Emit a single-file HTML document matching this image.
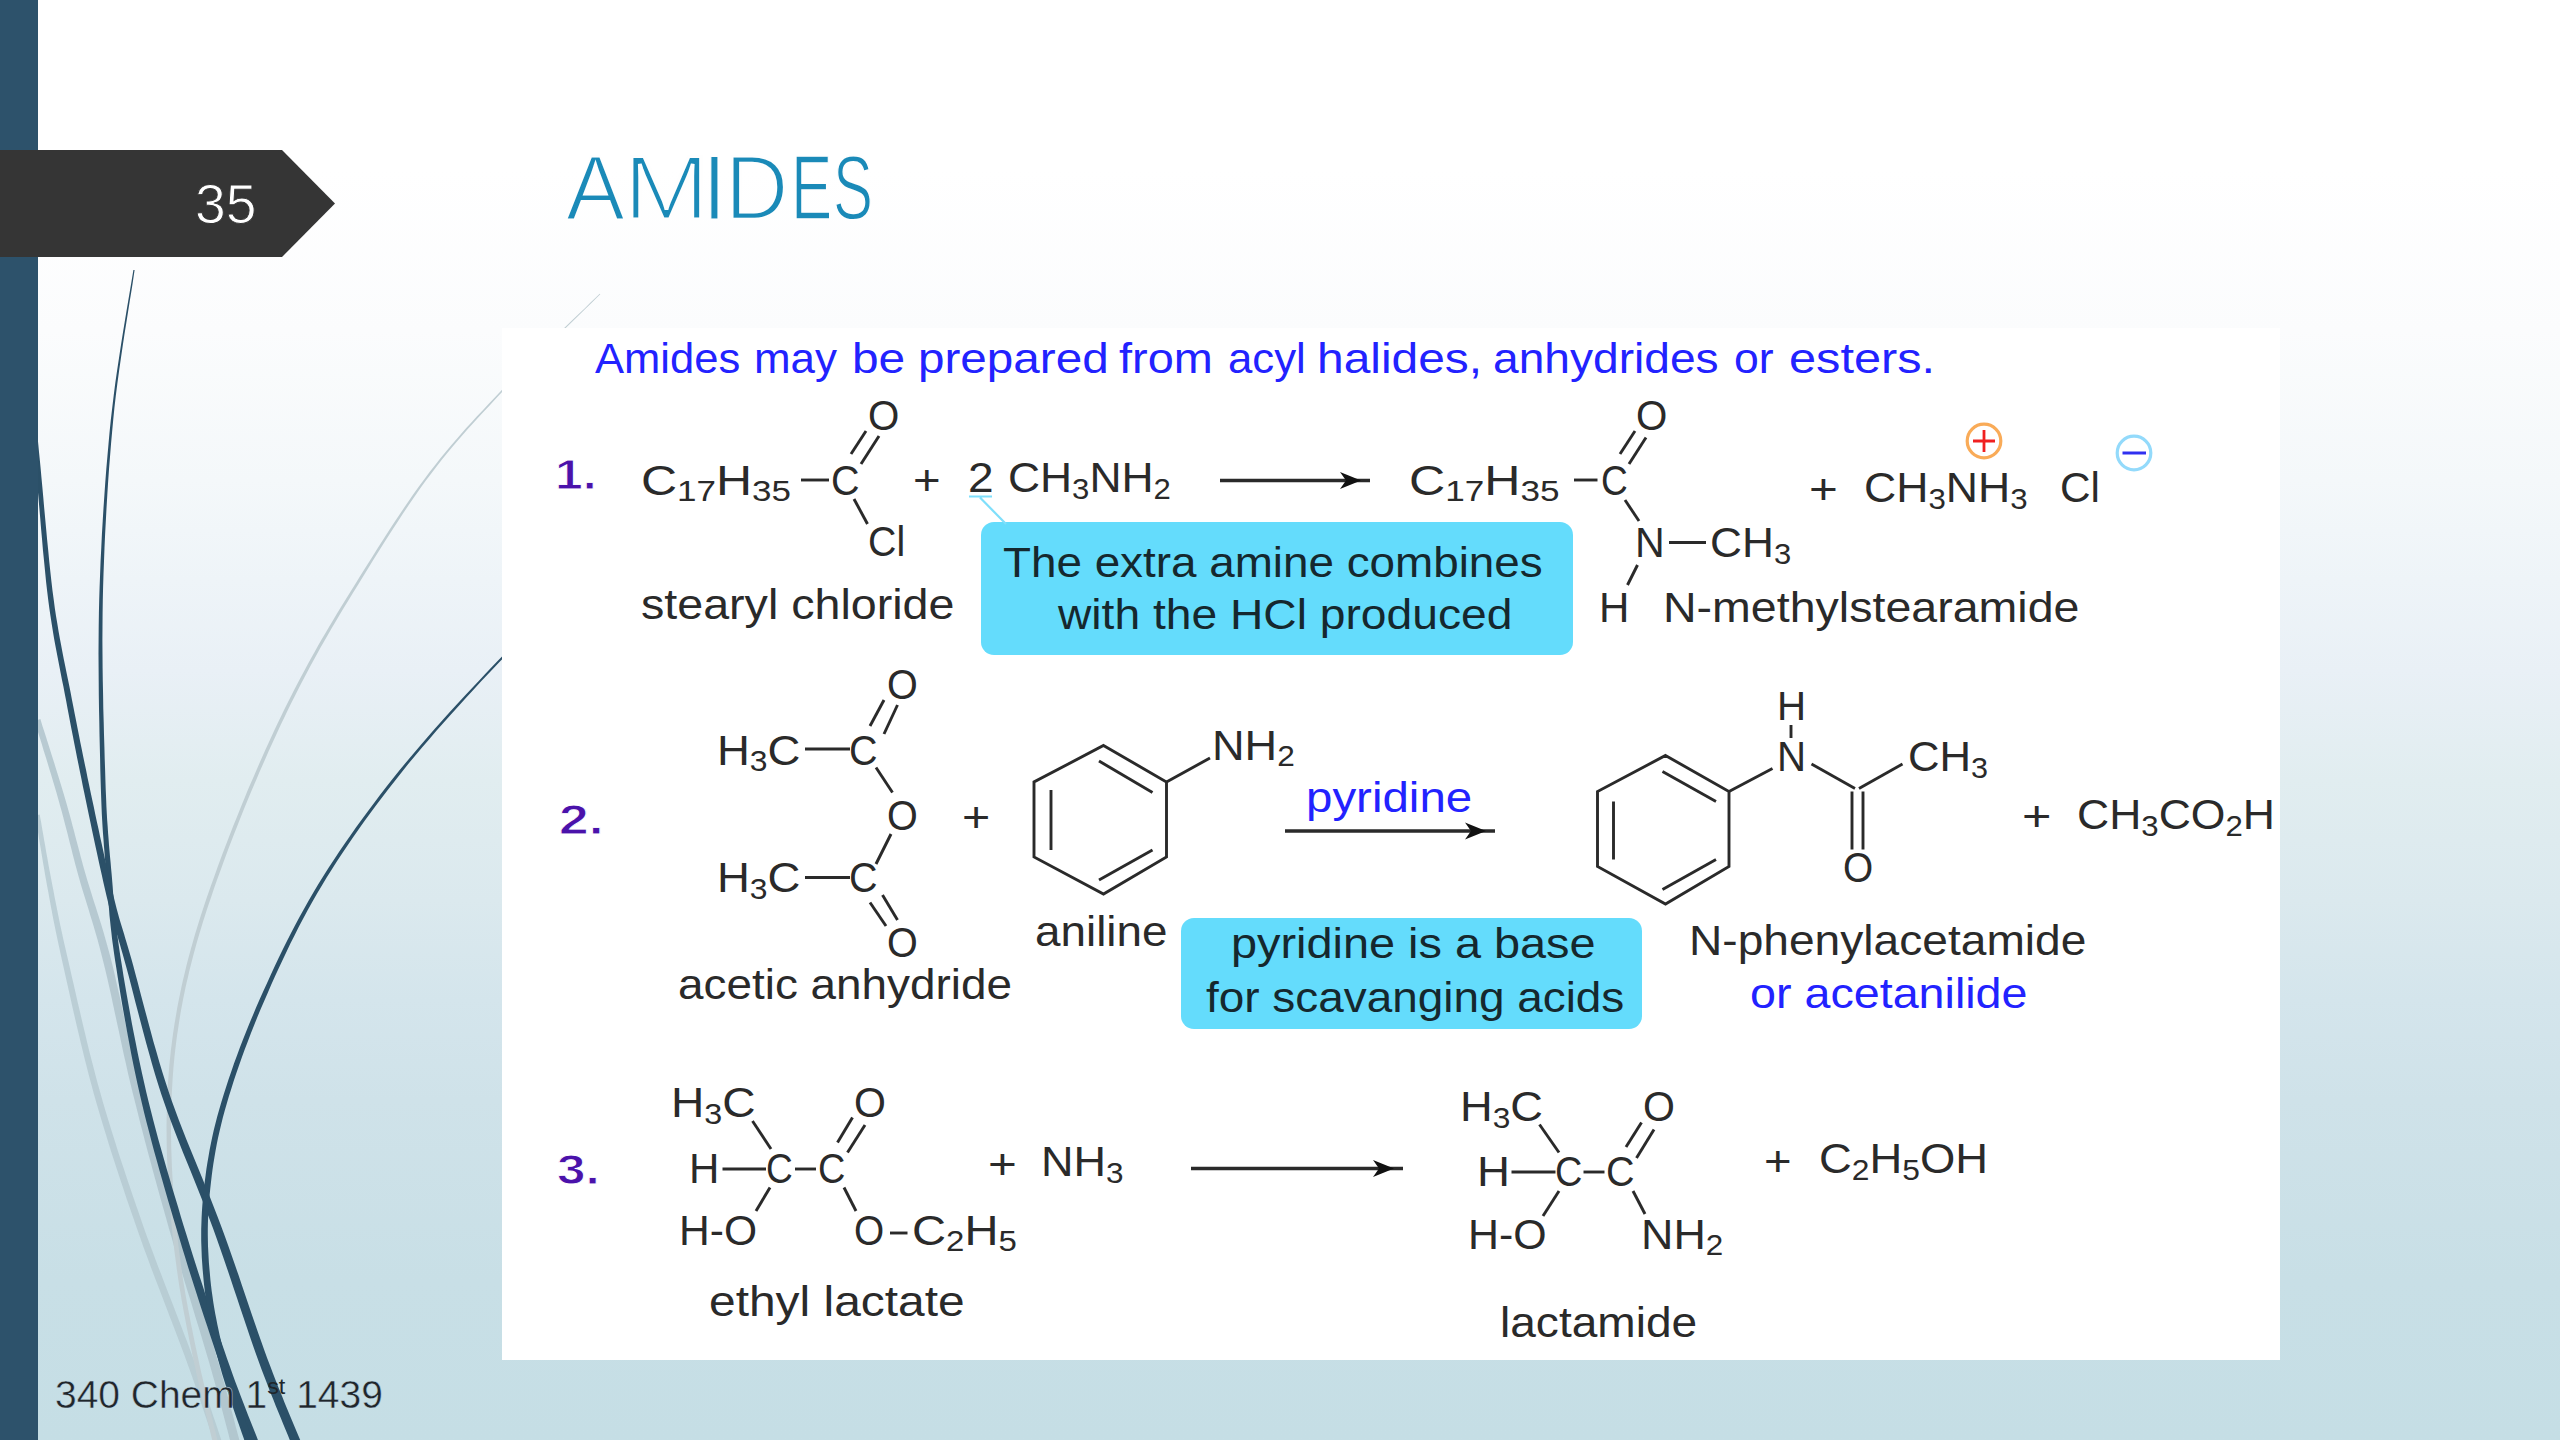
<!DOCTYPE html>
<html><head><meta charset="utf-8"><title>AMIDES</title>
<style>
html,body{margin:0;padding:0}
body{width:2560px;height:1440px;position:relative;overflow:hidden;font-family:"Liberation Sans",sans-serif;
background:linear-gradient(to bottom,#ffffff 0px,#ffffff 170px,#fbfcfd 330px,#f4f8fa 480px,#eef4f8 580px,#e9f0f6 670px,#e1edf0 780px,#dbe9ee 900px,#d4e5ec 1000px,#cfe2e9 1100px,#c8dfe6 1280px,#c5dee5 1440px);}
.t{position:absolute;white-space:pre;line-height:1;transform-origin:0 0;}
.sb{font-size:.70em;position:relative;top:.22em}
.sp{font-size:.6em;position:relative;top:-.62em;-webkit-text-stroke:0}
svg{position:absolute;left:0;top:0}
.bx{position:absolute}
</style></head>
<body>
<svg width="2560" height="1440" viewBox="0 0 2560 1440">
<path d="M34.6 720.9 L35.6 724.2 L36.9 728.2 L38.3 732.9 L39.9 738.1 L41.7 743.8 L43.5 749.9 L45.5 756.2 L47.5 762.8 L49.5 769.5 L51.5 776.1 L53.5 782.7 L55.4 789.1 L57.2 795.2 L58.8 800.9 L60.3 806.4 L61.8 811.8 L63.2 817.1 L64.6 822.4 L65.9 827.6 L67.3 832.8 L68.6 838.1 L69.9 843.3 L71.3 848.6 L72.6 853.9 L74.0 859.3 L75.4 864.7 L76.9 870.3 L78.5 876.0 L80.1 881.7 L81.7 887.3 L83.4 892.8 L85.1 898.3 L86.8 903.8 L88.5 909.3 L90.2 915.0 L92.0 920.8 L93.8 926.8 L95.6 933.0 L97.5 939.5 L99.3 946.3 L101.2 953.4 L103.1 961.0 L105.1 969.0 L107.1 977.4 L109.1 986.2 L111.1 995.3 L113.1 1004.8 L115.2 1014.4 L117.3 1024.3 L119.5 1034.3 L121.6 1044.3 L123.8 1054.4 L126.1 1064.5 L128.3 1074.5 L130.6 1084.3 L133.0 1094.0 L135.4 1103.6 L137.8 1113.1 L140.2 1122.7 L142.7 1132.3 L145.2 1141.9 L147.7 1151.5 L150.3 1161.1 L152.9 1170.7 L155.5 1180.3 L158.2 1189.9 L160.8 1199.5 L163.5 1209.1 L166.2 1218.6 L168.9 1228.2 L171.7 1237.8 L174.5 1247.7 L177.5 1257.7 L180.5 1267.7 L183.5 1277.8 L186.6 1287.9 L189.7 1297.8 L192.7 1307.7 L195.6 1317.4 L198.5 1326.8 L201.3 1336.0 L203.9 1344.8 L206.4 1353.2 L208.8 1361.2 L211.0 1369.0 L213.1 1376.6 L215.2 1384.1 L217.2 1391.4 L219.1 1398.5 L220.9 1405.4 L222.7 1412.0 L224.3 1418.2 L225.8 1424.0 L227.3 1429.4 L228.6 1434.4 L229.7 1438.9 L230.8 1442.8 L231.7 1446.2 L240.3 1443.8 L239.5 1440.5 L238.4 1436.6 L237.2 1432.1 L235.9 1427.2 L234.5 1421.7 L233.0 1415.9 L231.3 1409.7 L229.6 1403.1 L227.7 1396.2 L225.8 1389.1 L223.7 1381.7 L221.6 1374.2 L219.5 1366.5 L217.2 1358.8 L214.9 1350.7 L212.4 1342.3 L209.7 1333.4 L206.9 1324.2 L204.0 1314.8 L201.0 1305.1 L198.0 1295.3 L194.9 1285.3 L191.8 1275.3 L188.8 1265.2 L185.7 1255.2 L182.8 1245.3 L179.9 1235.4 L177.1 1225.8 L174.4 1216.3 L171.7 1206.7 L169.0 1197.2 L166.3 1187.6 L163.7 1178.1 L161.0 1168.5 L158.4 1158.9 L155.9 1149.3 L153.3 1139.8 L150.8 1130.2 L148.3 1120.6 L145.8 1111.1 L143.4 1101.5 L141.0 1092.0 L138.7 1082.4 L136.4 1072.6 L134.1 1062.7 L131.8 1052.6 L129.6 1042.6 L127.4 1032.6 L125.3 1022.6 L123.2 1012.7 L121.1 1003.1 L119.0 993.6 L116.9 984.4 L114.9 975.6 L112.9 967.1 L110.9 959.0 L108.9 951.4 L106.9 944.2 L105.0 937.4 L103.1 930.8 L101.2 924.6 L99.3 918.6 L97.5 912.7 L95.7 907.1 L93.9 901.5 L92.2 896.0 L90.5 890.6 L88.8 885.1 L87.1 879.6 L85.5 874.0 L83.9 868.4 L82.4 862.9 L80.9 857.4 L79.5 852.1 L78.1 846.8 L76.7 841.5 L75.3 836.3 L74.0 831.1 L72.6 825.9 L71.2 820.6 L69.8 815.3 L68.3 810.0 L66.8 804.6 L65.2 799.1 L63.5 793.3 L61.7 787.2 L59.7 780.8 L57.7 774.2 L55.6 767.6 L53.6 760.9 L51.5 754.4 L49.5 748.0 L47.6 742.0 L45.8 736.3 L44.1 731.0 L42.6 726.4 L41.4 722.4 L40.4 719.1Z" fill="#adc1c9" opacity="0.80"/>
<path d="M35.3 815.4 L35.8 818.3 L36.4 821.9 L37.0 826.0 L37.8 830.7 L38.6 835.8 L39.5 841.2 L40.4 846.8 L41.4 852.7 L42.4 858.7 L43.4 864.7 L44.4 870.6 L45.4 876.5 L46.4 882.1 L47.4 887.5 L48.4 892.5 L49.2 897.3 L50.1 902.0 L50.9 906.5 L51.8 911.1 L52.6 915.6 L53.5 920.2 L54.5 925.0 L55.5 930.0 L56.6 935.3 L57.8 941.0 L59.1 947.0 L60.5 953.6 L62.1 960.7 L63.8 968.3 L65.6 976.5 L67.6 985.2 L69.6 994.3 L71.7 1003.7 L73.9 1013.4 L76.2 1023.4 L78.6 1033.5 L81.0 1043.7 L83.5 1053.9 L86.0 1064.1 L88.6 1074.2 L91.3 1084.2 L93.9 1093.9 L96.6 1103.4 L99.4 1113.0 L102.2 1122.6 L105.2 1132.2 L108.1 1141.8 L111.1 1151.4 L114.2 1161.0 L117.3 1170.6 L120.5 1180.2 L123.7 1189.8 L126.9 1199.4 L130.2 1209.0 L133.5 1218.6 L136.8 1228.1 L140.2 1237.8 L143.7 1247.7 L147.4 1257.6 L151.1 1267.7 L154.9 1277.8 L158.8 1287.8 L162.6 1297.8 L166.4 1307.7 L170.1 1317.4 L173.7 1326.8 L177.2 1336.0 L180.5 1344.8 L183.7 1353.2 L186.6 1361.2 L189.4 1369.0 L192.1 1376.6 L194.7 1384.1 L197.2 1391.5 L199.6 1398.6 L201.9 1405.4 L204.1 1412.0 L206.2 1418.2 L208.1 1424.1 L209.9 1429.5 L211.5 1434.4 L213.0 1438.9 L214.3 1442.9 L215.4 1446.2 L222.6 1443.8 L221.4 1440.5 L220.1 1436.6 L218.6 1432.1 L217.0 1427.1 L215.2 1421.7 L213.2 1415.9 L211.1 1409.6 L208.9 1403.1 L206.6 1396.2 L204.1 1389.1 L201.6 1381.7 L198.9 1374.2 L196.2 1366.5 L193.4 1358.8 L190.4 1350.7 L187.3 1342.3 L183.9 1333.4 L180.4 1324.2 L176.7 1314.8 L173.0 1305.1 L169.2 1295.3 L165.3 1285.3 L161.5 1275.3 L157.6 1265.2 L153.9 1255.2 L150.2 1245.3 L146.6 1235.5 L143.2 1225.9 L139.9 1216.3 L136.6 1206.8 L133.3 1197.2 L130.1 1187.7 L126.8 1178.1 L123.7 1168.6 L120.5 1159.0 L117.4 1149.4 L114.4 1139.8 L111.4 1130.3 L108.5 1120.7 L105.6 1111.2 L102.8 1101.7 L100.1 1092.1 L97.4 1082.5 L94.8 1072.6 L92.2 1062.6 L89.6 1052.4 L87.1 1042.2 L84.7 1032.1 L82.3 1022.0 L80.0 1012.1 L77.7 1002.3 L75.6 992.9 L73.5 983.8 L71.5 975.2 L69.7 967.0 L67.9 959.3 L66.3 952.3 L64.8 945.8 L63.4 939.8 L62.2 934.1 L61.1 928.9 L60.0 923.9 L59.0 919.1 L58.1 914.5 L57.2 910.0 L56.3 905.5 L55.4 901.0 L54.5 896.4 L53.6 891.5 L52.6 886.5 L51.6 881.2 L50.5 875.6 L49.4 869.8 L48.3 863.8 L47.3 857.8 L46.2 851.9 L45.2 846.0 L44.2 840.4 L43.3 835.0 L42.4 829.9 L41.6 825.3 L40.9 821.1 L40.2 817.5 L39.7 814.6Z" fill="#b4c8cf" opacity="0.80"/>
<path d="M599.7 293.7 L595.6 297.7 L590.5 302.6 L584.6 308.4 L577.9 314.8 L570.6 321.8 L562.9 329.3 L554.8 337.1 L546.6 345.1 L538.3 353.3 L530.0 361.4 L522.0 369.4 L514.3 377.1 L507.0 384.5 L500.4 391.4 L494.3 398.0 L488.3 404.2 L482.6 410.4 L477.0 416.3 L471.6 422.3 L466.2 428.1 L461.0 434.0 L455.8 440.0 L450.6 446.0 L445.4 452.2 L440.2 458.6 L435.0 465.2 L429.6 472.1 L424.1 479.4 L418.5 487.0 L412.8 495.1 L407.0 503.5 L401.1 512.2 L395.2 521.1 L389.3 530.1 L383.4 539.2 L377.6 548.3 L371.9 557.4 L366.3 566.3 L360.8 575.0 L355.6 583.4 L350.6 591.6 L345.8 599.3 L341.3 606.6 L337.0 613.6 L332.9 620.4 L329.0 627.0 L325.2 633.4 L321.6 639.6 L318.0 645.8 L314.6 651.9 L311.2 658.0 L307.9 664.0 L304.6 670.2 L301.2 676.4 L297.9 682.7 L294.5 689.2 L291.1 695.9 L287.8 702.6 L284.4 709.3 L281.2 716.0 L277.9 722.8 L274.7 729.6 L271.5 736.5 L268.4 743.3 L265.3 750.1 L262.2 757.0 L259.2 763.8 L256.2 770.7 L253.3 777.5 L250.3 784.3 L247.4 791.1 L244.6 798.0 L241.7 804.9 L238.9 811.9 L236.1 818.9 L233.3 825.8 L230.6 832.8 L227.9 839.7 L225.3 846.5 L222.7 853.3 L220.2 860.0 L217.8 866.6 L215.5 873.0 L213.2 879.4 L211.0 885.5 L208.9 891.6 L206.8 897.6 L204.8 903.5 L202.9 909.3 L201.0 915.0 L199.2 920.7 L197.5 926.3 L195.8 931.8 L194.1 937.4 L192.6 942.9 L191.0 948.4 L189.5 954.0 L188.0 959.5 L186.6 965.0 L185.3 970.5 L184.0 975.9 L182.7 981.3 L181.5 986.7 L180.4 992.1 L179.3 997.4 L178.2 1002.7 L177.2 1008.0 L176.3 1013.4 L175.4 1018.7 L174.5 1024.0 L173.7 1029.3 L172.9 1034.7 L172.2 1040.1 L171.5 1045.4 L170.8 1050.7 L170.3 1056.1 L169.7 1061.4 L169.2 1066.7 L168.8 1072.0 L168.4 1077.4 L168.0 1082.7 L167.7 1088.1 L167.4 1093.5 L167.2 1098.9 L167.0 1104.4 L166.8 1109.9 L166.7 1115.5 L166.6 1121.1 L166.5 1126.7 L166.6 1132.4 L166.6 1138.0 L166.7 1143.7 L166.8 1149.4 L167.0 1155.2 L167.2 1160.9 L167.4 1166.7 L167.7 1172.6 L168.0 1178.4 L168.4 1184.3 L168.7 1190.2 L169.1 1196.1 L169.6 1202.1 L170.1 1208.1 L170.6 1214.1 L171.1 1220.2 L171.7 1226.3 L172.3 1232.4 L173.0 1238.6 L173.7 1244.7 L174.4 1250.9 L175.2 1257.0 L176.0 1263.1 L176.8 1269.2 L177.7 1275.3 L178.6 1281.4 L179.5 1287.5 L180.6 1293.6 L181.6 1299.7 L182.7 1305.8 L183.8 1311.9 L185.0 1318.0 L186.1 1324.0 L187.3 1330.1 L188.6 1336.2 L189.8 1342.3 L191.1 1348.4 L192.3 1354.4 L193.6 1360.5 L195.0 1366.8 L196.4 1373.4 L198.0 1380.3 L199.6 1387.3 L201.3 1394.4 L202.9 1401.5 L204.6 1408.4 L206.2 1415.1 L207.8 1421.5 L209.2 1427.5 L210.5 1433.0 L211.7 1437.9 L212.7 1442.1 L213.6 1445.6 L218.4 1444.4 L217.6 1441.0 L216.6 1436.7 L215.4 1431.8 L214.0 1426.3 L212.6 1420.3 L211.0 1413.9 L209.4 1407.2 L207.7 1400.3 L206.1 1393.3 L204.4 1386.2 L202.8 1379.2 L201.2 1372.4 L199.7 1365.8 L198.4 1359.5 L197.1 1353.4 L195.8 1347.4 L194.5 1341.3 L193.3 1335.2 L192.1 1329.2 L190.8 1323.1 L189.7 1317.0 L188.5 1311.0 L187.4 1304.9 L186.3 1298.9 L185.2 1292.8 L184.2 1286.8 L183.2 1280.7 L182.3 1274.7 L181.5 1268.6 L180.6 1262.5 L179.8 1256.4 L179.0 1250.3 L178.3 1244.2 L177.6 1238.1 L176.9 1231.9 L176.3 1225.8 L175.7 1219.8 L175.1 1213.7 L174.6 1207.7 L174.1 1201.7 L173.7 1195.8 L173.3 1189.8 L172.9 1184.0 L172.5 1178.1 L172.2 1172.3 L171.9 1166.5 L171.7 1160.8 L171.5 1155.0 L171.3 1149.3 L171.2 1143.6 L171.1 1138.0 L171.0 1132.3 L171.0 1126.7 L171.0 1121.1 L171.1 1115.6 L171.2 1110.1 L171.4 1104.6 L171.6 1099.1 L171.8 1093.7 L172.1 1088.3 L172.4 1083.0 L172.7 1077.7 L173.1 1072.4 L173.5 1067.1 L174.0 1061.8 L174.5 1056.5 L175.1 1051.2 L175.7 1045.9 L176.4 1040.6 L177.1 1035.3 L177.9 1030.0 L178.7 1024.7 L179.5 1019.4 L180.4 1014.1 L181.3 1008.8 L182.3 1003.5 L183.3 998.2 L184.4 992.9 L185.5 987.6 L186.7 982.2 L188.0 976.9 L189.2 971.5 L190.6 966.0 L192.0 960.5 L193.4 955.0 L194.9 949.5 L196.4 944.0 L198.0 938.5 L199.6 933.0 L201.3 927.4 L203.0 921.8 L204.8 916.2 L206.6 910.5 L208.5 904.7 L210.5 898.9 L212.5 892.9 L214.6 886.8 L216.8 880.6 L219.1 874.3 L221.4 867.9 L223.8 861.3 L226.3 854.6 L228.8 847.8 L231.4 841.0 L234.1 834.1 L236.8 827.2 L239.5 820.2 L242.3 813.3 L245.1 806.3 L247.9 799.4 L250.8 792.5 L253.7 785.7 L256.6 778.9 L259.5 772.1 L262.5 765.3 L265.5 758.4 L268.5 751.6 L271.6 744.7 L274.7 737.9 L277.9 731.1 L281.0 724.3 L284.3 717.5 L287.5 710.8 L290.8 704.1 L294.1 697.4 L297.5 690.8 L300.8 684.3 L304.1 677.9 L307.4 671.7 L310.7 665.6 L314.0 659.5 L317.3 653.4 L320.7 647.3 L324.2 641.2 L327.8 634.9 L331.5 628.5 L335.4 621.9 L339.5 615.1 L343.7 608.1 L348.2 600.7 L352.9 593.0 L357.9 584.9 L363.1 576.4 L368.5 567.7 L374.0 558.7 L379.7 549.7 L385.5 540.5 L391.3 531.4 L397.2 522.4 L403.0 513.5 L408.9 504.8 L414.6 496.4 L420.3 488.3 L425.9 480.6 L431.3 473.4 L436.6 466.5 L441.8 459.8 L446.9 453.4 L452.1 447.2 L457.2 441.2 L462.4 435.2 L467.6 429.3 L472.9 423.5 L478.3 417.5 L483.9 411.5 L489.6 405.4 L495.5 399.1 L501.6 392.6 L508.2 385.6 L515.3 378.2 L523.0 370.4 L531.0 362.4 L539.2 354.2 L547.4 346.0 L555.7 337.9 L563.7 330.1 L571.4 322.5 L578.6 315.5 L585.2 309.0 L591.2 303.3 L596.2 298.3 L600.3 294.3Z" fill="#c0ced3"/>
<path d="M133.4 269.9 L132.4 275.9 L131.2 283.2 L129.8 291.6 L128.2 300.9 L126.5 311.1 L124.7 322.1 L122.8 333.6 L120.9 345.6 L119.0 357.9 L117.1 370.4 L115.3 383.0 L113.7 395.6 L112.2 407.9 L110.8 419.9 L109.6 431.8 L108.5 444.0 L107.4 456.5 L106.3 469.1 L105.3 482.0 L104.4 494.9 L103.5 508.0 L102.7 521.2 L101.9 534.4 L101.3 547.6 L100.6 560.8 L100.1 574.0 L99.6 587.0 L99.2 600.0 L98.9 613.0 L98.7 626.4 L98.6 640.1 L98.5 653.9 L98.6 667.8 L98.7 681.6 L98.8 695.3 L99.0 708.8 L99.3 722.0 L99.5 734.8 L99.8 747.1 L100.1 758.8 L100.3 769.8 L100.6 780.1 L100.9 789.5 L101.2 798.2 L101.5 806.3 L101.8 813.8 L102.2 820.8 L102.6 827.4 L103.0 833.6 L103.5 839.6 L103.9 845.5 L104.4 851.3 L104.8 857.1 L105.3 862.9 L105.8 868.9 L106.3 875.2 L106.8 881.5 L107.3 887.5 L107.7 893.2 L108.2 898.8 L108.6 904.4 L109.1 909.9 L109.5 915.4 L110.1 921.0 L110.7 926.8 L111.4 932.8 L112.1 939.2 L113.0 945.8 L114.0 952.9 L115.1 960.4 L116.4 968.5 L117.7 976.9 L119.1 985.8 L120.6 995.0 L122.2 1004.4 L123.9 1014.1 L125.7 1024.0 L127.5 1034.0 L129.4 1044.1 L131.3 1054.2 L133.3 1064.2 L135.4 1074.2 L137.5 1084.1 L139.7 1093.8 L141.9 1103.3 L144.2 1112.9 L146.6 1122.5 L149.1 1132.1 L151.6 1141.8 L154.2 1151.4 L156.9 1161.0 L159.5 1170.6 L162.3 1180.2 L165.0 1189.8 L167.8 1199.4 L170.6 1209.0 L173.4 1218.6 L176.3 1228.1 L179.2 1237.8 L182.1 1247.6 L185.2 1257.6 L188.3 1267.7 L191.5 1277.8 L194.7 1287.8 L197.9 1297.8 L201.1 1307.7 L204.3 1317.4 L207.4 1326.8 L210.4 1336.0 L213.4 1344.9 L216.2 1353.4 L219.0 1361.4 L221.6 1369.2 L224.4 1376.9 L227.1 1384.4 L229.8 1391.8 L232.5 1398.9 L235.1 1405.8 L237.6 1412.4 L240.0 1418.6 L242.2 1424.5 L244.4 1429.9 L246.3 1434.9 L248.0 1439.4 L249.5 1443.3 L250.8 1446.6 L259.2 1443.4 L257.9 1440.0 L256.4 1436.1 L254.6 1431.6 L252.7 1426.7 L250.5 1421.3 L248.2 1415.4 L245.8 1409.2 L243.3 1402.7 L240.6 1395.8 L238.0 1388.7 L235.2 1381.4 L232.5 1373.9 L229.8 1366.3 L227.0 1358.6 L224.3 1350.6 L221.4 1342.2 L218.4 1333.4 L215.3 1324.2 L212.2 1314.8 L208.9 1305.1 L205.7 1295.3 L202.5 1285.3 L199.2 1275.3 L196.0 1265.3 L192.8 1255.2 L189.7 1245.3 L186.7 1235.5 L183.7 1225.9 L180.8 1216.4 L178.0 1206.8 L175.1 1197.3 L172.2 1187.7 L169.4 1178.1 L166.6 1168.6 L163.9 1159.0 L161.2 1149.4 L158.5 1139.9 L155.9 1130.3 L153.4 1120.8 L151.0 1111.3 L148.6 1101.7 L146.3 1092.2 L144.1 1082.6 L141.9 1072.8 L139.8 1062.9 L137.7 1052.9 L135.7 1042.8 L133.7 1032.8 L131.8 1022.9 L130.0 1013.0 L128.3 1003.4 L126.6 994.0 L125.0 984.8 L123.5 976.0 L122.2 967.6 L120.9 959.6 L119.7 952.1 L118.7 945.0 L117.8 938.4 L117.0 932.2 L116.3 926.2 L115.6 920.5 L115.1 914.9 L114.6 909.4 L114.1 903.9 L113.6 898.4 L113.1 892.8 L112.7 887.0 L112.2 881.1 L111.7 874.8 L111.1 868.5 L110.6 862.5 L110.0 856.6 L109.5 850.8 L109.0 845.1 L108.6 839.2 L108.1 833.3 L107.7 827.0 L107.2 820.5 L106.8 813.5 L106.4 806.0 L106.1 798.0 L105.7 789.3 L105.4 779.9 L105.1 769.7 L104.7 758.7 L104.4 747.0 L104.0 734.7 L103.7 721.9 L103.3 708.8 L103.1 695.3 L102.8 681.6 L102.6 667.8 L102.5 653.9 L102.4 640.1 L102.5 626.5 L102.6 613.1 L102.8 600.0 L103.1 587.1 L103.5 574.1 L104.0 561.0 L104.5 547.8 L105.1 534.6 L105.8 521.4 L106.5 508.2 L107.3 495.1 L108.1 482.2 L109.0 469.3 L110.0 456.7 L111.0 444.2 L112.1 432.0 L113.2 420.1 L114.4 408.1 L115.8 395.8 L117.4 383.3 L119.1 370.7 L120.9 358.2 L122.7 345.9 L124.5 333.9 L126.4 322.3 L128.1 311.4 L129.7 301.2 L131.3 291.8 L132.6 283.4 L133.7 276.1 L134.6 270.1Z" fill="#2b5068"/>
<path d="M27.9 380.2 L28.2 383.3 L28.5 386.9 L28.9 391.0 L29.3 395.5 L29.7 400.4 L30.2 405.7 L30.7 411.5 L31.3 417.5 L31.9 423.9 L32.5 430.6 L33.1 437.7 L33.8 444.9 L34.5 452.5 L35.2 460.2 L36.0 468.5 L36.7 477.4 L37.5 487.0 L38.4 497.0 L39.3 507.4 L40.2 518.1 L41.1 529.0 L42.1 539.9 L43.0 550.7 L44.1 561.4 L45.1 571.8 L46.1 581.9 L47.2 591.4 L48.3 600.4 L49.4 608.8 L50.6 616.8 L51.8 624.5 L53.0 632.0 L54.2 639.2 L55.5 646.2 L56.8 653.0 L58.1 659.8 L59.4 666.5 L60.7 673.2 L62.0 679.9 L63.4 686.6 L64.7 693.5 L66.1 700.6 L67.4 707.7 L68.8 714.9 L70.1 722.0 L71.5 729.2 L72.9 736.3 L74.3 743.5 L75.7 750.6 L77.1 757.8 L78.6 764.9 L80.0 772.1 L81.5 779.2 L82.9 786.4 L84.4 793.5 L85.9 800.7 L87.4 807.9 L88.9 815.3 L90.5 822.8 L92.1 830.4 L93.7 838.0 L95.3 845.6 L97.0 853.2 L98.6 860.7 L100.2 868.0 L101.8 875.1 L103.3 882.0 L104.8 888.6 L106.3 894.9 L107.7 900.8 L109.0 906.2 L110.2 910.9 L111.3 915.1 L112.3 918.8 L113.3 922.3 L114.3 925.7 L115.3 928.9 L116.3 932.3 L117.4 935.8 L118.5 939.7 L119.8 944.0 L121.2 948.9 L122.8 954.5 L124.6 960.9 L126.6 968.2 L128.7 976.1 L130.9 984.6 L133.2 993.6 L135.6 1003.0 L138.2 1012.8 L140.8 1022.8 L143.5 1033.1 L146.3 1043.4 L149.2 1053.8 L152.1 1064.2 L155.1 1074.4 L158.2 1084.5 L161.3 1094.2 L164.6 1103.8 L168.0 1113.4 L171.6 1123.1 L175.3 1132.7 L179.0 1142.3 L182.8 1151.9 L186.7 1161.5 L190.6 1171.1 L194.5 1180.7 L198.3 1190.3 L202.2 1199.9 L205.9 1209.4 L209.5 1218.9 L213.1 1228.5 L216.5 1238.1 L220.0 1247.9 L223.4 1257.8 L226.9 1267.9 L230.3 1277.9 L233.6 1288.0 L237.0 1298.0 L240.2 1307.8 L243.5 1317.5 L246.7 1327.0 L249.8 1336.2 L252.8 1345.0 L255.8 1353.5 L258.7 1361.6 L261.6 1369.4 L264.5 1377.1 L267.4 1384.6 L270.2 1392.0 L273.1 1399.1 L275.8 1406.0 L278.5 1412.6 L281.1 1418.8 L283.5 1424.7 L285.7 1430.1 L287.8 1435.1 L289.6 1439.6 L291.2 1443.5 L292.6 1446.8 L301.4 1443.2 L300.1 1439.8 L298.5 1435.9 L296.6 1431.4 L294.5 1426.5 L292.2 1421.1 L289.8 1415.2 L287.2 1409.0 L284.5 1402.5 L281.8 1395.6 L278.9 1388.5 L276.0 1381.2 L273.1 1373.8 L270.2 1366.1 L267.3 1358.4 L264.4 1350.4 L261.4 1342.0 L258.3 1333.2 L255.1 1324.1 L251.9 1314.7 L248.6 1305.0 L245.3 1295.2 L241.9 1285.2 L238.5 1275.1 L235.0 1265.1 L231.5 1255.0 L228.0 1245.1 L224.5 1235.2 L220.9 1225.5 L217.3 1216.0 L213.6 1206.4 L209.8 1196.8 L205.9 1187.2 L202.0 1177.6 L198.1 1168.1 L194.2 1158.5 L190.3 1148.9 L186.4 1139.4 L182.6 1129.8 L178.9 1120.3 L175.4 1110.8 L171.9 1101.3 L168.7 1091.8 L165.5 1082.1 L162.4 1072.2 L159.3 1062.1 L156.4 1051.8 L153.4 1041.4 L150.6 1031.1 L147.9 1020.9 L145.2 1010.9 L142.6 1001.2 L140.1 991.7 L137.8 982.8 L135.5 974.3 L133.4 966.3 L131.4 959.1 L129.5 952.6 L127.9 947.0 L126.4 942.1 L125.1 937.7 L124.0 933.8 L122.9 930.3 L121.9 926.9 L120.9 923.7 L119.9 920.4 L118.9 917.0 L117.9 913.3 L116.8 909.2 L115.6 904.5 L114.3 899.2 L112.9 893.3 L111.4 887.1 L109.8 880.5 L108.3 873.6 L106.7 866.5 L105.0 859.2 L103.4 851.8 L101.8 844.3 L100.1 836.7 L98.5 829.1 L96.8 821.5 L95.2 814.0 L93.7 806.6 L92.1 799.3 L90.6 792.2 L89.1 785.1 L87.6 777.9 L86.2 770.8 L84.7 763.7 L83.2 756.5 L81.8 749.4 L80.3 742.3 L78.9 735.1 L77.5 728.0 L76.1 720.8 L74.7 713.7 L73.3 706.6 L71.9 699.4 L70.6 692.4 L69.2 685.5 L67.8 678.7 L66.4 672.0 L65.1 665.4 L63.7 658.7 L62.4 652.0 L61.1 645.1 L59.8 638.2 L58.5 631.0 L57.3 623.6 L56.0 616.0 L54.8 608.0 L53.7 599.6 L52.5 590.8 L51.4 581.3 L50.3 571.3 L49.2 560.9 L48.2 550.2 L47.1 539.4 L46.1 528.5 L45.1 517.7 L44.1 507.0 L43.2 496.6 L42.3 486.5 L41.4 477.0 L40.6 468.0 L39.8 459.8 L39.0 452.0 L38.3 444.5 L37.6 437.2 L36.9 430.2 L36.3 423.5 L35.7 417.1 L35.1 411.0 L34.5 405.3 L34.0 400.0 L33.6 395.1 L33.1 390.6 L32.7 386.5 L32.4 382.9 L32.1 379.8Z" fill="#2b5068"/>
<path d="M559.5 604.4 L557.1 606.5 L554.3 609.0 L551.1 611.7 L547.6 614.7 L543.7 618.0 L539.6 621.5 L535.1 625.4 L530.4 629.5 L525.5 634.0 L520.3 638.7 L515.0 643.7 L509.6 648.9 L504.0 654.5 L498.3 660.3 L492.3 666.5 L485.9 673.2 L479.2 680.4 L472.1 687.9 L464.8 695.7 L457.4 703.8 L449.8 712.1 L442.2 720.6 L434.6 729.1 L427.0 737.7 L419.7 746.2 L412.5 754.7 L405.5 763.0 L398.9 771.1 L392.5 779.1 L386.2 787.1 L380.0 795.1 L373.9 803.2 L367.9 811.2 L362.0 819.3 L356.1 827.3 L350.4 835.4 L344.8 843.5 L339.3 851.6 L333.9 859.7 L328.6 867.8 L323.4 875.9 L318.4 884.0 L313.5 892.2 L308.7 900.4 L304.1 908.7 L299.5 916.9 L295.1 925.2 L290.8 933.5 L286.6 941.7 L282.5 950.0 L278.5 958.3 L274.6 966.5 L270.8 974.7 L267.1 982.9 L263.4 991.0 L259.8 999.1 L256.3 1007.1 L252.9 1015.2 L249.5 1023.3 L246.2 1031.5 L243.0 1039.6 L239.9 1047.6 L236.9 1055.7 L234.0 1063.6 L231.3 1071.5 L228.6 1079.3 L226.1 1087.0 L223.7 1094.6 L221.4 1102.0 L219.3 1109.2 L217.3 1116.3 L215.5 1123.3 L213.8 1130.1 L212.3 1136.8 L210.9 1143.4 L209.6 1150.0 L208.5 1156.4 L207.4 1162.7 L206.4 1169.0 L205.6 1175.2 L204.8 1181.4 L204.1 1187.5 L203.4 1193.6 L202.8 1199.7 L202.3 1205.8 L201.9 1211.8 L201.6 1217.7 L201.4 1223.5 L201.2 1229.3 L201.2 1235.0 L201.2 1240.7 L201.4 1246.3 L201.6 1252.0 L201.8 1257.6 L202.2 1263.3 L202.6 1268.9 L203.1 1274.6 L203.6 1280.3 L204.2 1286.1 L204.9 1291.8 L205.6 1297.5 L206.4 1303.2 L207.3 1308.9 L208.3 1314.6 L209.4 1320.3 L210.5 1326.1 L211.6 1331.8 L212.9 1337.6 L214.2 1343.3 L215.6 1349.2 L217.0 1355.0 L218.5 1360.9 L220.2 1367.1 L222.1 1373.7 L224.2 1380.5 L226.4 1387.5 L228.7 1394.6 L231.0 1401.7 L233.4 1408.7 L235.7 1415.5 L238.0 1422.0 L240.1 1428.0 L242.0 1433.6 L243.8 1438.5 L245.2 1442.8 L246.4 1446.2 L253.6 1443.8 L252.4 1440.3 L250.9 1436.0 L249.2 1431.1 L247.2 1425.5 L245.1 1419.5 L242.8 1413.0 L240.5 1406.3 L238.1 1399.4 L235.7 1392.3 L233.4 1385.3 L231.1 1378.3 L229.1 1371.6 L227.2 1365.1 L225.5 1359.1 L224.0 1353.3 L222.5 1347.5 L221.2 1341.7 L219.8 1336.0 L218.6 1330.3 L217.4 1324.7 L216.3 1319.0 L215.2 1313.4 L214.2 1307.8 L213.3 1302.2 L212.5 1296.6 L211.7 1290.9 L211.0 1285.3 L210.4 1279.7 L209.9 1274.0 L209.4 1268.4 L208.9 1262.8 L208.6 1257.2 L208.3 1251.7 L208.0 1246.1 L207.9 1240.6 L207.8 1235.0 L207.8 1229.3 L207.9 1223.7 L208.1 1217.9 L208.4 1212.1 L208.7 1206.3 L209.2 1200.3 L209.7 1194.2 L210.3 1188.2 L211.0 1182.1 L211.7 1176.0 L212.5 1169.8 L213.4 1163.6 L214.4 1157.4 L215.5 1151.0 L216.7 1144.6 L218.0 1138.1 L219.5 1131.4 L221.1 1124.7 L222.8 1117.8 L224.7 1110.8 L226.8 1103.6 L228.9 1096.2 L231.3 1088.7 L233.7 1081.0 L236.3 1073.3 L239.0 1065.4 L241.8 1057.5 L244.7 1049.4 L247.8 1041.4 L250.9 1033.3 L254.1 1025.2 L257.4 1017.1 L260.7 1009.0 L264.2 1000.9 L267.7 992.9 L271.2 984.8 L274.9 976.6 L278.6 968.4 L282.5 960.2 L286.4 951.9 L290.4 943.6 L294.5 935.4 L298.7 927.1 L303.1 918.8 L307.5 910.6 L312.1 902.3 L316.8 894.1 L321.6 886.0 L326.5 877.8 L331.6 869.7 L336.8 861.6 L342.1 853.5 L347.5 845.4 L353.1 837.3 L358.7 829.2 L364.5 821.1 L370.4 813.0 L376.3 805.0 L382.4 796.9 L388.5 788.9 L394.8 780.9 L401.1 772.9 L407.6 764.7 L414.5 756.4 L421.6 747.9 L429.0 739.4 L436.4 730.8 L444.0 722.2 L451.6 713.7 L459.1 705.4 L466.5 697.3 L473.7 689.4 L480.7 681.8 L487.4 674.7 L493.8 667.9 L499.7 661.7 L505.4 655.9 L510.9 650.3 L516.3 645.0 L521.6 640.0 L526.7 635.3 L531.6 630.9 L536.3 626.7 L540.7 622.8 L544.8 619.3 L548.7 616.0 L552.2 612.9 L555.4 610.2 L558.1 607.8 L560.5 605.6Z" fill="#2b5068"/>
</svg>
<div class="bx" style="left:0;top:0;width:37.5px;height:1440px;background:#2d526b"></div>
<svg width="340" height="110" style="left:0;top:150px" viewBox="0 0 340 110"><polygon points="0,0 282,0 335,53.5 282,107 0,107" fill="#353535"/></svg>
<div class="bx" style="left:501.5px;top:327.5px;width:1778px;height:1032.5px;background:#ffffff"></div>
<div class="bx" style="left:980.5px;top:522px;width:592px;height:133px;border-radius:13px;background:#64dcfc"></div>
<div class="bx" style="left:1180.5px;top:917.5px;width:461px;height:111px;border-radius:13px;background:#64dcfc"></div>
<svg width="2560" height="1440" viewBox="0 0 2560 1440" fill="none" stroke="#2a2a2a" stroke-width="2.9" stroke-linecap="butt" stroke-linejoin="miter">
<line x1="801.0" y1="480.0" x2="829.0" y2="480.0"/>
<line x1="851.0" y1="454.0" x2="866.0" y2="431.0"/>
<line x1="861.0" y1="464.0" x2="879.0" y2="436.0"/>
<line x1="854.0" y1="499.0" x2="867.5" y2="524.0"/>
<line x1="1574.0" y1="480.0" x2="1597.5" y2="480.0"/>
<line x1="1620.0" y1="454.0" x2="1635.0" y2="431.0"/>
<line x1="1629.0" y1="464.0" x2="1646.0" y2="437.5"/>
<line x1="1625.0" y1="500.0" x2="1639.0" y2="521.0"/>
<line x1="1669.0" y1="542.5" x2="1706.0" y2="542.5"/>
<line x1="1637.5" y1="565.0" x2="1627.5" y2="585.0"/>
<line x1="805.0" y1="749.0" x2="850.0" y2="749.0"/>
<line x1="870.0" y1="726.0" x2="884.0" y2="700.0"/>
<line x1="884.0" y1="734.0" x2="897.5" y2="705.0"/>
<line x1="876.0" y1="767.5" x2="892.5" y2="792.5"/>
<line x1="891.0" y1="834.0" x2="876.0" y2="864.0"/>
<line x1="805.0" y1="877.5" x2="850.0" y2="877.5"/>
<line x1="870.0" y1="902.5" x2="886.0" y2="926.0"/>
<line x1="882.5" y1="895.0" x2="897.5" y2="920.0"/>
<polygon points="1103.5,745.5 1166.5,782.0 1166.5,857.0 1103.5,894.0 1034.0,857.0 1034.0,782.0"/>
<polygon points="1665.5,755.5 1729.0,791.5 1729.0,866.5 1665.5,904.0 1597.5,866.5 1597.5,791.5"/>
<line x1="1051.0" y1="790.0" x2="1051.0" y2="850.0"/>
<line x1="1099.0" y1="761.0" x2="1152.5" y2="792.5"/>
<line x1="1099.0" y1="880.0" x2="1152.5" y2="850.0"/>
<line x1="1613.5" y1="801.5" x2="1613.5" y2="859.5"/>
<line x1="1662.5" y1="771.5" x2="1716.0" y2="801.5"/>
<line x1="1662.5" y1="889.5" x2="1716.0" y2="859.5"/>
<line x1="1166.5" y1="782.0" x2="1210.0" y2="758.0"/>
<line x1="1729.0" y1="791.5" x2="1772.5" y2="768.5"/>
<line x1="1791.0" y1="725.0" x2="1791.0" y2="738.0"/>
<line x1="1811.5" y1="764.0" x2="1855.0" y2="788.5"/>
<line x1="1859.0" y1="788.5" x2="1902.5" y2="764.0"/>
<line x1="1852.0" y1="791.5" x2="1852.0" y2="849.5"/>
<line x1="1863.0" y1="791.5" x2="1863.0" y2="849.5"/>
<line x1="722.5" y1="1169.0" x2="766.0" y2="1169.0"/>
<line x1="795.0" y1="1169.0" x2="816.0" y2="1169.0"/>
<line x1="752.5" y1="1121.0" x2="771.0" y2="1149.0"/>
<line x1="770.0" y1="1187.5" x2="756.0" y2="1211.0"/>
<line x1="837.5" y1="1142.5" x2="852.5" y2="1117.5"/>
<line x1="847.5" y1="1152.5" x2="865.0" y2="1125.0"/>
<line x1="844.0" y1="1187.5" x2="856.0" y2="1211.0"/>
<line x1="890.0" y1="1233.0" x2="907.5" y2="1233.0"/>
<line x1="1511.5" y1="1172.0" x2="1555.5" y2="1172.0"/>
<line x1="1583.5" y1="1172.0" x2="1604.5" y2="1172.0"/>
<line x1="1539.5" y1="1124.5" x2="1559.0" y2="1152.5"/>
<line x1="1559.0" y1="1191.0" x2="1543.0" y2="1216.0"/>
<line x1="1626.0" y1="1147.0" x2="1641.5" y2="1122.5"/>
<line x1="1636.5" y1="1158.0" x2="1654.0" y2="1129.5"/>
<line x1="1633.0" y1="1191.0" x2="1645.0" y2="1214.0"/>
<line x1="1220.0" y1="480.5" x2="1370.0" y2="480.5" stroke-width="3.6"/><polygon stroke="none" fill="#111" points="1361.0,480.5 1340.0,472.0 1346.0,480.5 1340.0,489.0"/><line x1="1285.0" y1="831.0" x2="1495.0" y2="831.0" stroke-width="3.6"/><polygon stroke="none" fill="#111" points="1486.0,831.0 1465.0,822.5 1471.0,831.0 1465.0,839.5"/><line x1="1191.0" y1="1168.5" x2="1403.0" y2="1168.5" stroke-width="3.6"/><polygon stroke="none" fill="#111" points="1394.0,1168.5 1373.0,1160.0 1379.0,1168.5 1373.0,1177.0"/>
<path d="M969 496.5 H992 M980 497.5 L1006 524" stroke="#7fdffb" stroke-width="2.2"/>
<circle cx="1984" cy="441" r="16.8" stroke="#f9ab58" stroke-width="3.2"/><path d="M1973 441 H1995 M1984 430 V452" stroke="#f02020" stroke-width="2.8"/>
<circle cx="2134" cy="453" r="16.8" stroke="#93dafb" stroke-width="3.2"/><path d="M2122.5 453 H2146" stroke="#3030f0" stroke-width="3"/>
</svg>
<div class="t" style="left:194.9px;top:175.6px;font-size:56.0px;color:#ffffff;transform:scaleX(0.9859);-webkit-text-stroke:1px #353535;">35</div>
<h1 style="margin:0;font-weight:400"><span class="t" style="left:565.8px;top:142.8px;font-size:90.0px;color:#1a8ab8;transform:scaleX(0.9802);-webkit-text-stroke:2.2px #fefefe;">A</span><span class="t" style="left:622.5px;top:142.8px;font-size:90.0px;color:#1a8ab8;transform:scaleX(1.1541);-webkit-text-stroke:3.2px #fefefe;">M</span><span class="t" style="left:703.6px;top:142.8px;font-size:90.0px;color:#1a8ab8;transform:scaleX(0.8329);-webkit-text-stroke:1px #fefefe;">I</span><span class="t" style="left:724.8px;top:142.8px;font-size:90.0px;color:#1a8ab8;transform:scaleX(0.9754);-webkit-text-stroke:2.6px #fefefe;">D</span><span class="t" style="left:790.9px;top:142.8px;font-size:90.0px;color:#1a8ab8;transform:scaleX(0.6867);-webkit-text-stroke:1.6px #fefefe;">E</span><span class="t" style="left:833.3px;top:142.8px;font-size:90.0px;color:#1a8ab8;transform:scaleX(0.6658);-webkit-text-stroke:1.8px #fefefe;">S</span></h1>
<div class="t" style="left:55.0px;top:1375.8px;font-size:38.0px;color:#20262a;transform:scaleX(1.0250);-webkit-text-stroke:.45px #c7dee6;">340 Chem 1<span class="sp">st</span> 1439</div>
<p style="margin:0"><span class="t" style="left:594.9px;top:337.1px;font-size:43.0px;color:#2222ff;transform:scaleX(1.0123);">Amides</span> <span class="t" style="left:754.1px;top:337.1px;font-size:43.0px;color:#2222ff;transform:scaleX(1.0218);">may</span> <span class="t" style="left:851.9px;top:337.1px;font-size:43.0px;color:#2222ff;transform:scaleX(1.1121);">be</span> <span class="t" style="left:917.9px;top:337.1px;font-size:43.0px;color:#2222ff;transform:scaleX(1.1075);">prepared</span> <span class="t" style="left:1118.8px;top:337.1px;font-size:43.0px;color:#2222ff;transform:scaleX(1.0902);">from</span> <span class="t" style="left:1227.6px;top:337.1px;font-size:43.0px;color:#2222ff;transform:scaleX(1.0172);">acyl</span> <span class="t" style="left:1316.7px;top:337.1px;font-size:43.0px;color:#2222ff;transform:scaleX(1.1141);">halides,</span> <span class="t" style="left:1492.5px;top:337.1px;font-size:43.0px;color:#2222ff;transform:scaleX(1.0725);">anhydrides</span> <span class="t" style="left:1734.1px;top:337.1px;font-size:43.0px;color:#2222ff;transform:scaleX(1.0360);">or</span> <span class="t" style="left:1788.9px;top:337.1px;font-size:43.0px;color:#2222ff;transform:scaleX(1.1314);">esters.</span> </p>
<div class="t" style="left:554.9px;top:453.1px;font-size:43.0px;color:#4a12aa;transform:scaleX(1.1587);font-weight:bold;-webkit-text-stroke:.9px #fff;">1.</div>
<div class="t" style="left:640.5px;top:458.6px;font-size:43.0px;color:#2a2a2a;transform:scaleX(1.1620);">C<span class="sb">17</span>H<span class="sb">35</span></div>
<div class="t" style="left:830.5px;top:458.6px;font-size:43.0px;color:#2a2a2a;transform:scaleX(0.9177);">C</div>
<div class="t" style="left:868.1px;top:393.6px;font-size:43.0px;color:#2a2a2a;transform:scaleX(0.9367);">O</div>
<div class="t" style="left:868.0px;top:519.6px;font-size:43.0px;color:#2a2a2a;transform:scaleX(0.9142);">Cl</div>
<div class="t" style="left:912.7px;top:458.6px;font-size:43.0px;color:#2a2a2a;transform:scaleX(1.1002);">+</div>
<div class="t" style="left:967.7px;top:455.6px;font-size:43.0px;color:#2a2a2a;transform:scaleX(1.0716);">2</div>
<div class="t" style="left:1007.7px;top:456.1px;font-size:43.0px;color:#2a2a2a;transform:scaleX(1.0323);">CH<span class="sb">3</span>NH<span class="sb">2</span></div>
<div class="t" style="left:641.2px;top:582.6px;font-size:43.0px;color:#2a2a2a;transform:scaleX(1.0836);">stearyl chloride</div>
<div class="t" style="left:1003.0px;top:541.1px;font-size:43.0px;color:#15282e;transform:scaleX(1.0651);">The extra amine combines</div>
<div class="t" style="left:1057.6px;top:592.6px;font-size:43.0px;color:#15282e;transform:scaleX(1.0741);">with the HCl produced</div>
<div class="t" style="left:1408.5px;top:458.6px;font-size:43.0px;color:#2a2a2a;transform:scaleX(1.1660);">C<span class="sb">17</span>H<span class="sb">35</span></div>
<div class="t" style="left:1600.6px;top:458.6px;font-size:43.0px;color:#2a2a2a;transform:scaleX(0.8627);">C</div>
<div class="t" style="left:1635.6px;top:393.6px;font-size:43.0px;color:#2a2a2a;transform:scaleX(0.9367);">O</div>
<div class="t" style="left:1634.6px;top:521.1px;font-size:43.0px;color:#2a2a2a;transform:scaleX(0.9572);">N</div>
<div class="t" style="left:1710.3px;top:521.1px;font-size:43.0px;color:#2a2a2a;transform:scaleX(1.0285);">CH<span class="sb">3</span></div>
<div class="t" style="left:1599.1px;top:586.1px;font-size:43.0px;color:#2a2a2a;transform:scaleX(0.9780);">H</div>
<div class="t" style="left:1663.2px;top:586.1px;font-size:43.0px;color:#2a2a2a;transform:scaleX(1.0823);">N-methylstearamide</div>
<div class="t" style="left:1808.6px;top:467.6px;font-size:43.0px;color:#2a2a2a;transform:scaleX(1.1481);">+</div>
<div class="t" style="left:1863.7px;top:466.1px;font-size:43.0px;color:#2a2a2a;transform:scaleX(1.0375);">CH<span class="sb">3</span>NH<span class="sb">3</span></div>
<div class="t" style="left:2060.4px;top:466.1px;font-size:43.0px;color:#2a2a2a;transform:scaleX(0.9845);">Cl</div>
<div class="t" style="left:559.1px;top:797.6px;font-size:43.0px;color:#4a12aa;transform:scaleX(1.2411);font-weight:bold;-webkit-text-stroke:.9px #fff;">2.</div>
<div class="t" style="left:717.3px;top:728.6px;font-size:43.0px;color:#2a2a2a;transform:scaleX(1.0582);">H<span class="sb">3</span>C</div>
<div class="t" style="left:849.0px;top:728.6px;font-size:43.0px;color:#2a2a2a;transform:scaleX(0.9177);">C</div>
<div class="t" style="left:887.1px;top:662.6px;font-size:43.0px;color:#2a2a2a;transform:scaleX(0.9197);">O</div>
<div class="t" style="left:887.1px;top:793.6px;font-size:43.0px;color:#2a2a2a;transform:scaleX(0.9197);">O</div>
<div class="t" style="left:717.3px;top:856.1px;font-size:43.0px;color:#2a2a2a;transform:scaleX(1.0582);">H<span class="sb">3</span>C</div>
<div class="t" style="left:849.0px;top:856.1px;font-size:43.0px;color:#2a2a2a;transform:scaleX(0.9177);">C</div>
<div class="t" style="left:887.1px;top:921.1px;font-size:43.0px;color:#2a2a2a;transform:scaleX(0.9197);">O</div>
<div class="t" style="left:961.6px;top:795.6px;font-size:43.0px;color:#2a2a2a;transform:scaleX(1.1241);">+</div>
<div class="t" style="left:1212.3px;top:723.6px;font-size:43.0px;color:#2a2a2a;transform:scaleX(1.0499);">NH<span class="sb">2</span></div>
<div class="t" style="left:1305.9px;top:776.1px;font-size:43.0px;color:#2222ff;transform:scaleX(1.1034);">pyridine</div>
<div class="t" style="left:1035.1px;top:910.1px;font-size:43.0px;color:#2a2a2a;transform:scaleX(1.0656);">aniline</div>
<div class="t" style="left:678.1px;top:962.6px;font-size:43.0px;color:#2a2a2a;transform:scaleX(1.0666);">acetic anhydride</div>
<div class="t" style="left:1231.0px;top:921.6px;font-size:43.0px;color:#15282e;transform:scaleX(1.0895);">pyridine is a base</div>
<div class="t" style="left:1206.4px;top:976.1px;font-size:43.0px;color:#15282e;transform:scaleX(1.0671);">for scavanging acids</div>
<div class="t" style="left:1776.7px;top:685.4px;font-size:41.5px;color:#2a2a2a;transform:scaleX(0.9700);">H</div>
<div class="t" style="left:1776.7px;top:735.1px;font-size:43.0px;color:#2a2a2a;transform:scaleX(0.9364);">N</div>
<div class="t" style="left:1907.8px;top:735.1px;font-size:43.0px;color:#2a2a2a;transform:scaleX(1.0152);">CH<span class="sb">3</span></div>
<div class="t" style="left:1843.2px;top:846.1px;font-size:43.0px;color:#2a2a2a;transform:scaleX(0.9026);">O</div>
<div class="t" style="left:2021.5px;top:794.6px;font-size:43.0px;color:#2a2a2a;transform:scaleX(1.1720);">+</div>
<div class="t" style="left:2076.7px;top:793.1px;font-size:43.0px;color:#2a2a2a;transform:scaleX(1.0351);">CH<span class="sb">3</span>CO<span class="sb">2</span>H</div>
<div class="t" style="left:1689.2px;top:918.6px;font-size:43.0px;color:#2a2a2a;transform:scaleX(1.0725);">N-phenylacetamide</div>
<div class="t" style="left:1750.0px;top:972.1px;font-size:43.0px;color:#2222ff;transform:scaleX(1.0850);">or acetanilide</div>
<div class="t" style="left:556.8px;top:1147.6px;font-size:43.0px;color:#4a12aa;transform:scaleX(1.1902);font-weight:bold;-webkit-text-stroke:.9px #fff;">3.</div>
<div class="t" style="left:671.2px;top:1081.1px;font-size:43.0px;color:#2a2a2a;transform:scaleX(1.0718);">H<span class="sb">3</span>C</div>
<div class="t" style="left:854.1px;top:1081.1px;font-size:43.0px;color:#2a2a2a;transform:scaleX(0.9537);">O</div>
<div class="t" style="left:689.1px;top:1147.1px;font-size:43.0px;color:#2a2a2a;transform:scaleX(0.9780);">H</div>
<div class="t" style="left:765.6px;top:1147.1px;font-size:43.0px;color:#2a2a2a;transform:scaleX(0.8627);">C</div>
<div class="t" style="left:818.1px;top:1147.1px;font-size:43.0px;color:#2a2a2a;transform:scaleX(0.8810);">C</div>
<div class="t" style="left:679.0px;top:1208.6px;font-size:43.0px;color:#2a2a2a;transform:scaleX(0.9899);">H-O</div>
<div class="t" style="left:854.2px;top:1208.6px;font-size:43.0px;color:#2a2a2a;transform:scaleX(0.9026);">O</div>
<div class="t" style="left:911.6px;top:1208.6px;font-size:43.0px;color:#2a2a2a;transform:scaleX(1.0957);">C<span class="sb">2</span>H<span class="sb">5</span></div>
<div class="t" style="left:987.6px;top:1142.6px;font-size:43.0px;color:#2a2a2a;transform:scaleX(1.1481);">+</div>
<div class="t" style="left:1041.3px;top:1140.1px;font-size:43.0px;color:#2a2a2a;transform:scaleX(1.0472);">NH<span class="sb">3</span></div>
<div class="t" style="left:709.0px;top:1279.6px;font-size:43.0px;color:#2a2a2a;transform:scaleX(1.1142);">ethyl lactate</div>
<div class="t" style="left:1460.3px;top:1085.1px;font-size:43.0px;color:#2a2a2a;transform:scaleX(1.0514);">H<span class="sb">3</span>C</div>
<div class="t" style="left:1642.6px;top:1085.1px;font-size:43.0px;color:#2a2a2a;transform:scaleX(0.9537);">O</div>
<div class="t" style="left:1476.8px;top:1150.1px;font-size:43.0px;color:#2a2a2a;transform:scaleX(1.0612);">H</div>
<div class="t" style="left:1555.1px;top:1150.1px;font-size:43.0px;color:#2a2a2a;transform:scaleX(0.8810);">C</div>
<div class="t" style="left:1606.0px;top:1150.1px;font-size:43.0px;color:#2a2a2a;transform:scaleX(0.9177);">C</div>
<div class="t" style="left:1467.5px;top:1212.6px;font-size:43.0px;color:#2a2a2a;transform:scaleX(0.9967);">H-O</div>
<div class="t" style="left:1641.3px;top:1212.6px;font-size:43.0px;color:#2a2a2a;transform:scaleX(1.0431);">NH<span class="sb">2</span></div>
<div class="t" style="left:1764.2px;top:1139.6px;font-size:43.0px;color:#2a2a2a;transform:scaleX(1.1002);">+</div>
<div class="t" style="left:1818.7px;top:1137.1px;font-size:43.0px;color:#2a2a2a;transform:scaleX(1.0555);">C<span class="sb">2</span>H<span class="sb">5</span>OH</div>
<div class="t" style="left:1499.9px;top:1300.6px;font-size:43.0px;color:#2a2a2a;transform:scaleX(1.0713);">lactamide</div>
</body></html>
